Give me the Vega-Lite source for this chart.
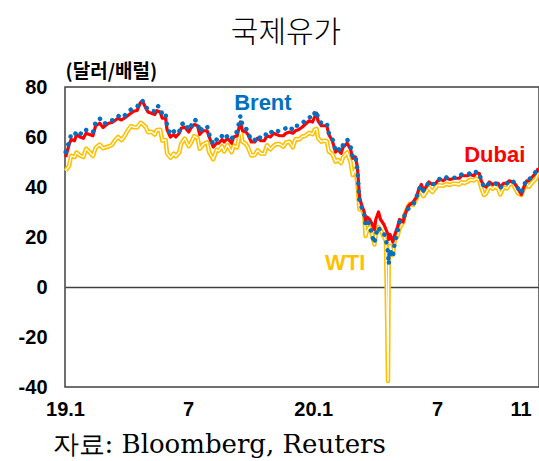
{
  "$schema": "https://vega.github.io/schema/vega-lite/v6.json",
  "width": 474,
  "height": 300,
  "autosize": {"type": "none"},
  "padding": {"left": 65, "top": 87, "right": 0, "bottom": 74},
  "background": "white",
  "title": {"text": "국제유가", "font": "Noto Sans CJK KR", "fontSize": 30, "fontWeight": 300, "color": "black", "anchor": "middle", "frame": "group", "dx": -16, "offset": 14},
  "config": {"view": {"stroke": "#404040", "strokeWidth": 1.5}, "axis": {"domain": false, "ticks": false}},
  "data": {"values": [
    {"date": "2019-01-02", "Dubai": 52, "Brent": 54, "WTI": 46.5},
    {"date": "2019-01-07", "Dubai": 57, "Brent": 58, "WTI": 48.5},
    {"date": "2019-01-10", "Dubai": 59, "Brent": 61, "WTI": 52.5},
    {"date": "2019-01-15", "Dubai": 58.5, "Brent": 60.5, "WTI": 52},
    {"date": "2019-01-18", "Dubai": 61, "Brent": 62.5, "WTI": 53.8},
    {"date": "2019-01-23", "Dubai": 60, "Brent": 61.5, "WTI": 52.6},
    {"date": "2019-01-28", "Dubai": 59.5, "Brent": 61, "WTI": 52},
    {"date": "2019-02-01", "Dubai": 61.5, "Brent": 62.8, "WTI": 55.3},
    {"date": "2019-02-06", "Dubai": 61, "Brent": 62.5, "WTI": 54},
    {"date": "2019-02-11", "Dubai": 60.5, "Brent": 61.8, "WTI": 52.4},
    {"date": "2019-02-15", "Dubai": 64.5, "Brent": 66, "WTI": 55.6},
    {"date": "2019-02-21", "Dubai": 65.5, "Brent": 67.5, "WTI": 57},
    {"date": "2019-02-26", "Dubai": 63.8, "Brent": 65.2, "WTI": 55.5},
    {"date": "2019-03-01", "Dubai": 64.5, "Brent": 65.5, "WTI": 55.8},
    {"date": "2019-03-06", "Dubai": 65.5, "Brent": 66.5, "WTI": 56.2},
    {"date": "2019-03-11", "Dubai": 65.8, "Brent": 66.6, "WTI": 56.8},
    {"date": "2019-03-15", "Dubai": 66.5, "Brent": 67.2, "WTI": 58.5},
    {"date": "2019-03-20", "Dubai": 67.5, "Brent": 68.5, "WTI": 60},
    {"date": "2019-03-25", "Dubai": 66.8, "Brent": 67.5, "WTI": 58.8},
    {"date": "2019-03-29", "Dubai": 67.5, "Brent": 68.4, "WTI": 60.1},
    {"date": "2019-04-03", "Dubai": 68.5, "Brent": 69.8, "WTI": 62.5},
    {"date": "2019-04-08", "Dubai": 69.5, "Brent": 71, "WTI": 64.4},
    {"date": "2019-04-12", "Dubai": 70.3, "Brent": 71.5, "WTI": 63.9},
    {"date": "2019-04-17", "Dubai": 70.6, "Brent": 72, "WTI": 63.8},
    {"date": "2019-04-22", "Dubai": 73.8, "Brent": 74.5, "WTI": 65.7},
    {"date": "2019-04-25", "Dubai": 74.3, "Brent": 74.4, "WTI": 65.2},
    {"date": "2019-04-30", "Dubai": 71.5, "Brent": 72, "WTI": 63.9},
    {"date": "2019-05-03", "Dubai": 70, "Brent": 71, "WTI": 61.9},
    {"date": "2019-05-08", "Dubai": 69.5, "Brent": 70.5, "WTI": 62.1},
    {"date": "2019-05-13", "Dubai": 69, "Brent": 70.3, "WTI": 61},
    {"date": "2019-05-16", "Dubai": 70.5, "Brent": 72.5, "WTI": 62.8},
    {"date": "2019-05-21", "Dubai": 70, "Brent": 72, "WTI": 62.9},
    {"date": "2019-05-24", "Dubai": 67.5, "Brent": 69, "WTI": 58.6},
    {"date": "2019-05-29", "Dubai": 67.5, "Brent": 69.5, "WTI": 58.8},
    {"date": "2019-05-31", "Dubai": 63, "Brent": 64.5, "WTI": 53.5},
    {"date": "2019-06-05", "Dubai": 60, "Brent": 61, "WTI": 51.7},
    {"date": "2019-06-10", "Dubai": 61, "Brent": 62.3, "WTI": 53.3},
    {"date": "2019-06-13", "Dubai": 60, "Brent": 61.2, "WTI": 52.3},
    {"date": "2019-06-18", "Dubai": 61.5, "Brent": 62.2, "WTI": 53.9},
    {"date": "2019-06-21", "Dubai": 63.5, "Brent": 65, "WTI": 57.4},
    {"date": "2019-06-26", "Dubai": 64, "Brent": 65.8, "WTI": 59.4},
    {"date": "2019-07-02", "Dubai": 62, "Brent": 62.8, "WTI": 56.3},
    {"date": "2019-07-05", "Dubai": 63.5, "Brent": 64.2, "WTI": 57.5},
    {"date": "2019-07-10", "Dubai": 65, "Brent": 67, "WTI": 60.4},
    {"date": "2019-07-15", "Dubai": 64.5, "Brent": 66.2, "WTI": 59.6},
    {"date": "2019-07-18", "Dubai": 61, "Brent": 62, "WTI": 55.3},
    {"date": "2019-07-23", "Dubai": 62.5, "Brent": 64, "WTI": 57},
    {"date": "2019-07-29", "Dubai": 62.5, "Brent": 64.3, "WTI": 57.9},
    {"date": "2019-08-01", "Dubai": 60, "Brent": 61, "WTI": 53.9},
    {"date": "2019-08-07", "Dubai": 56, "Brent": 57, "WTI": 51.1},
    {"date": "2019-08-12", "Dubai": 57.5, "Brent": 59, "WTI": 54.9},
    {"date": "2019-08-15", "Dubai": 57.5, "Brent": 58.5, "WTI": 54.5},
    {"date": "2019-08-20", "Dubai": 59, "Brent": 60.5, "WTI": 56.3},
    {"date": "2019-08-23", "Dubai": 58, "Brent": 59.2, "WTI": 54.2},
    {"date": "2019-08-28", "Dubai": 59.5, "Brent": 60.5, "WTI": 56.8},
    {"date": "2019-09-03", "Dubai": 57.5, "Brent": 59, "WTI": 53.9},
    {"date": "2019-09-06", "Dubai": 60, "Brent": 61.5, "WTI": 56.5},
    {"date": "2019-09-11", "Dubai": 60.5, "Brent": 62, "WTI": 55.8},
    {"date": "2019-09-16", "Dubai": 66, "Brent": 68.5, "WTI": 62.9},
    {"date": "2019-09-19", "Dubai": 62.5, "Brent": 64.5, "WTI": 58.1},
    {"date": "2019-09-24", "Dubai": 62, "Brent": 63.5, "WTI": 57.3},
    {"date": "2019-09-27", "Dubai": 61, "Brent": 62, "WTI": 55.9},
    {"date": "2019-10-02", "Dubai": 58, "Brent": 58.5, "WTI": 52.6},
    {"date": "2019-10-07", "Dubai": 58, "Brent": 58.8, "WTI": 52.8},
    {"date": "2019-10-11", "Dubai": 59.5, "Brent": 60.5, "WTI": 54.7},
    {"date": "2019-10-16", "Dubai": 58.5, "Brent": 59.5, "WTI": 53.4},
    {"date": "2019-10-21", "Dubai": 58.5, "Brent": 59.7, "WTI": 53.3},
    {"date": "2019-10-25", "Dubai": 60.5, "Brent": 62, "WTI": 56.7},
    {"date": "2019-10-30", "Dubai": 60, "Brent": 61.5, "WTI": 55.1},
    {"date": "2019-11-04", "Dubai": 61.5, "Brent": 63, "WTI": 56.5},
    {"date": "2019-11-08", "Dubai": 61, "Brent": 62.5, "WTI": 57.2},
    {"date": "2019-11-13", "Dubai": 60.5, "Brent": 62.2, "WTI": 57.1},
    {"date": "2019-11-18", "Dubai": 60.5, "Brent": 62.8, "WTI": 56.1},
    {"date": "2019-11-22", "Dubai": 61.5, "Brent": 63.6, "WTI": 57.8},
    {"date": "2019-11-27", "Dubai": 62, "Brent": 64.3, "WTI": 58.1},
    {"date": "2019-12-02", "Dubai": 61.5, "Brent": 62.8, "WTI": 55.9},
    {"date": "2019-12-06", "Dubai": 62.5, "Brent": 64.5, "WTI": 59.2},
    {"date": "2019-12-11", "Dubai": 63, "Brent": 64.5, "WTI": 59},
    {"date": "2019-12-16", "Dubai": 64, "Brent": 65.5, "WTI": 60.2},
    {"date": "2019-12-20", "Dubai": 65, "Brent": 66.5, "WTI": 60.4},
    {"date": "2019-12-26", "Dubai": 66.5, "Brent": 68, "WTI": 61.7},
    {"date": "2019-12-31", "Dubai": 66, "Brent": 67.5, "WTI": 61.1},
    {"date": "2020-01-03", "Dubai": 68, "Brent": 69.5, "WTI": 63},
    {"date": "2020-01-06", "Dubai": 69.5, "Brent": 70.5, "WTI": 63.3},
    {"date": "2020-01-08", "Dubai": 66.5, "Brent": 67.5, "WTI": 59.6},
    {"date": "2020-01-13", "Dubai": 64.5, "Brent": 65.5, "WTI": 58.1},
    {"date": "2020-01-16", "Dubai": 64.5, "Brent": 65.5, "WTI": 58.5},
    {"date": "2020-01-21", "Dubai": 64.5, "Brent": 65.5, "WTI": 58.3},
    {"date": "2020-01-24", "Dubai": 61, "Brent": 61.5, "WTI": 54.2},
    {"date": "2020-01-29", "Dubai": 58.5, "Brent": 59.5, "WTI": 53.3},
    {"date": "2020-02-03", "Dubai": 54, "Brent": 54.5, "WTI": 50.1},
    {"date": "2020-02-06", "Dubai": 55, "Brent": 55.5, "WTI": 50.9},
    {"date": "2020-02-11", "Dubai": 53.5, "Brent": 54.5, "WTI": 49.6},
    {"date": "2020-02-14", "Dubai": 56, "Brent": 57, "WTI": 52},
    {"date": "2020-02-20", "Dubai": 57.5, "Brent": 59, "WTI": 53.8},
    {"date": "2020-02-25", "Dubai": 55, "Brent": 56, "WTI": 49.9},
    {"date": "2020-02-28", "Dubai": 51.5, "Brent": 52, "WTI": 44.8},
    {"date": "2020-03-03", "Dubai": 52, "Brent": 52.5, "WTI": 47.2},
    {"date": "2020-03-06", "Dubai": 48, "Brent": 47, "WTI": 41.3},
    {"date": "2020-03-09", "Dubai": 36, "Brent": 34, "WTI": 31.1},
    {"date": "2020-03-12", "Dubai": 33, "Brent": 32, "WTI": 31.5},
    {"date": "2020-03-16", "Dubai": 30, "Brent": 29, "WTI": 28.7},
    {"date": "2020-03-18", "Dubai": 26, "Brent": 25, "WTI": 20.4},
    {"date": "2020-03-20", "Dubai": 28, "Brent": 26.5, "WTI": 22.4},
    {"date": "2020-03-24", "Dubai": 27, "Brent": 25, "WTI": 24},
    {"date": "2020-03-27", "Dubai": 25.5, "Brent": 21, "WTI": 21.5},
    {"date": "2020-03-31", "Dubai": 23, "Brent": 17.5, "WTI": 17},
    {"date": "2020-04-02", "Dubai": 27, "Brent": 21, "WTI": 21},
    {"date": "2020-04-06", "Dubai": 30, "Brent": 24, "WTI": 24},
    {"date": "2020-04-09", "Dubai": 27, "Brent": 22, "WTI": 22.8},
    {"date": "2020-04-14", "Dubai": 25, "Brent": 21.5, "WTI": 20},
    {"date": "2020-04-17", "Dubai": 23, "Brent": 19, "WTI": 18.3},
    {"date": "2020-04-20", "Dubai": 21, "Brent": 14, "WTI": -37.6},
    {"date": "2020-04-21", "Dubai": 19, "Brent": 9, "WTI": 10},
    {"date": "2020-04-23", "Dubai": 21, "Brent": 15, "WTI": 16.5},
    {"date": "2020-04-27", "Dubai": 18, "Brent": 12, "WTI": 12.8},
    {"date": "2020-04-30", "Dubai": 21, "Brent": 18, "WTI": 18.8},
    {"date": "2020-05-04", "Dubai": 24, "Brent": 22, "WTI": 20.4},
    {"date": "2020-05-07", "Dubai": 27, "Brent": 26, "WTI": 23.6},
    {"date": "2020-05-12", "Dubai": 26, "Brent": 27, "WTI": 25.8},
    {"date": "2020-05-15", "Dubai": 29, "Brent": 29, "WTI": 29.4},
    {"date": "2020-05-19", "Dubai": 32, "Brent": 31, "WTI": 32},
    {"date": "2020-05-22", "Dubai": 33, "Brent": 32, "WTI": 33.3},
    {"date": "2020-05-27", "Dubai": 34, "Brent": 33, "WTI": 32.8},
    {"date": "2020-06-01", "Dubai": 36, "Brent": 36, "WTI": 35.4},
    {"date": "2020-06-04", "Dubai": 39, "Brent": 39, "WTI": 37.4},
    {"date": "2020-06-08", "Dubai": 41, "Brent": 40.5, "WTI": 38.2},
    {"date": "2020-06-11", "Dubai": 38.5, "Brent": 38.5, "WTI": 36.3},
    {"date": "2020-06-16", "Dubai": 40.5, "Brent": 40.5, "WTI": 38.4},
    {"date": "2020-06-19", "Dubai": 42, "Brent": 42, "WTI": 39.8},
    {"date": "2020-06-24", "Dubai": 41, "Brent": 41, "WTI": 38},
    {"date": "2020-06-29", "Dubai": 41.5, "Brent": 41.5, "WTI": 39.7},
    {"date": "2020-07-02", "Dubai": 42.5, "Brent": 42.8, "WTI": 40.7},
    {"date": "2020-07-07", "Dubai": 43, "Brent": 43.5, "WTI": 40.6},
    {"date": "2020-07-10", "Dubai": 42.5, "Brent": 43, "WTI": 40.5},
    {"date": "2020-07-15", "Dubai": 43.5, "Brent": 43.8, "WTI": 41.2},
    {"date": "2020-07-20", "Dubai": 43, "Brent": 43.5, "WTI": 40.8},
    {"date": "2020-07-24", "Dubai": 43.3, "Brent": 43.6, "WTI": 41.3},
    {"date": "2020-07-29", "Dubai": 43.5, "Brent": 43.8, "WTI": 41.3},
    {"date": "2020-08-03", "Dubai": 43.5, "Brent": 44, "WTI": 41},
    {"date": "2020-08-06", "Dubai": 44.5, "Brent": 45, "WTI": 41.9},
    {"date": "2020-08-11", "Dubai": 44.5, "Brent": 45, "WTI": 41.6},
    {"date": "2020-08-14", "Dubai": 44.5, "Brent": 45, "WTI": 42},
    {"date": "2020-08-19", "Dubai": 45, "Brent": 45.5, "WTI": 42.9},
    {"date": "2020-08-24", "Dubai": 44.5, "Brent": 45, "WTI": 42.6},
    {"date": "2020-08-27", "Dubai": 45.5, "Brent": 46, "WTI": 43.4},
    {"date": "2020-09-01", "Dubai": 45.5, "Brent": 45.8, "WTI": 42.8},
    {"date": "2020-09-04", "Dubai": 42.5, "Brent": 42.7, "WTI": 39.8},
    {"date": "2020-09-08", "Dubai": 40.5, "Brent": 40, "WTI": 36.8},
    {"date": "2020-09-11", "Dubai": 40, "Brent": 40, "WTI": 37.3},
    {"date": "2020-09-16", "Dubai": 42, "Brent": 41.5, "WTI": 40.2},
    {"date": "2020-09-21", "Dubai": 41, "Brent": 41.5, "WTI": 39.3},
    {"date": "2020-09-24", "Dubai": 41.5, "Brent": 41.5, "WTI": 40.3},
    {"date": "2020-09-29", "Dubai": 41.5, "Brent": 41, "WTI": 39.3},
    {"date": "2020-10-02", "Dubai": 40, "Brent": 39.5, "WTI": 37},
    {"date": "2020-10-07", "Dubai": 41.5, "Brent": 41.5, "WTI": 39.9},
    {"date": "2020-10-12", "Dubai": 41.5, "Brent": 41.5, "WTI": 39.4},
    {"date": "2020-10-15", "Dubai": 42.5, "Brent": 42.5, "WTI": 40.9},
    {"date": "2020-10-20", "Dubai": 42, "Brent": 42.5, "WTI": 41.5},
    {"date": "2020-10-23", "Dubai": 41.5, "Brent": 41.5, "WTI": 39.9},
    {"date": "2020-10-28", "Dubai": 39.5, "Brent": 39.5, "WTI": 37.4},
    {"date": "2020-11-02", "Dubai": 37, "Brent": 37.5, "WTI": 36.8},
    {"date": "2020-11-05", "Dubai": 39.5, "Brent": 40, "WTI": 38.8},
    {"date": "2020-11-10", "Dubai": 42.5, "Brent": 43, "WTI": 41.4},
    {"date": "2020-11-13", "Dubai": 42.5, "Brent": 42.8, "WTI": 40.1},
    {"date": "2020-11-18", "Dubai": 44, "Brent": 44.5, "WTI": 41.8},
    {"date": "2020-11-23", "Dubai": 45.5, "Brent": 46, "WTI": 43.1},
    {"date": "2020-11-27", "Dubai": 47.5, "Brent": 48, "WTI": 45.7}
  ]},
  "encoding": {
    "x": {"field": "date", "type": "temporal",
      "scale": {"domain": [{"year": 2019, "month": 1, "date": 1}, {"year": 2020, "month": 11, "date": 28}]},
      "axis": {"values": [{"year": 2019, "month": 1, "date": 1}, {"year": 2019, "month": 7, "date": 1}, {"year": 2020, "month": 1, "date": 1}, {"year": 2020, "month": 7, "date": 1}, {"year": 2020, "month": 11, "date": 1}],
        "labelExpr": "month(datum.value) == 0 ? timeFormat(datum.value, '%y') + '.1' : '' + (month(datum.value) + 1)",
        "labelFont": "Liberation Sans", "labelFontWeight": "bold", "labelFontSize": 20, "labelColor": "black",
        "labelPadding": 12, "labelFlush": false, "labelOverlap": false, "grid": false,
        "title": "자료: Bloomberg, Reuters", "titleFont": "DejaVu Serif", "titleFontSize": 26, "titleFontWeight": "normal", "titleColor": "black",
        "titleAnchor": "start", "titleAlign": "left", "titleBaseline": "alphabetic", "titleX": -13, "titleY": 65}},
    "y": {"field": "value", "type": "quantitative",
      "scale": {"domain": [-40, 80]},
      "axis": {"values": [-40, -20, 0, 20, 40, 60, 80], "labelExpr": "'' + datum.value",
        "labelFont": "Liberation Sans", "labelFontWeight": "bold", "labelFontSize": 20, "labelColor": "black", "labelPadding": 18,
        "grid": true, "gridColor": "#404040", "gridWidth": 1.5,
        "gridOpacity": {"condition": {"test": "datum.value === 0", "value": 1}, "value": 0},
        "title": "(달러/배럴)", "titleFont": "Noto Sans CJK KR", "titleFontWeight": "bold", "titleFontSize": 19, "titleColor": "black",
        "titleAngle": 0, "titleAlign": "left", "titleBaseline": "middle", "titleX": 0, "titleY": -16}}
  },
  "layer": [
    {
      "transform": [{"fold": ["WTI"], "as": ["series", "value"]}],
      "mark": {"type": "line", "color": "#FFC000", "strokeWidth": 4.5, "strokeJoin": "round"}
    },
    {
      "transform": [{"fold": ["WTI"], "as": ["series", "value"]}],
      "mark": {"type": "line", "color": "#FFFFFF", "strokeWidth": 1.3, "strokeJoin": "round"}
    },
    {
      "transform": [{"fold": ["Dubai"], "as": ["series", "value"]}],
      "mark": {"type": "line", "color": "#FF0000", "strokeWidth": 3.2, "strokeJoin": "round"}
    },
    {
      "transform": [{"fold": ["Brent"], "as": ["series", "value"]}],
      "mark": {"type": "line", "color": "#0070C0", "strokeWidth": 4.5, "strokeDash": [0.1, 8], "strokeCap": "round"}
    },
    {
      "data": {"values": [
        {"label": "Brent", "date": "2019-10-19", "value": 73.8},
        {"label": "Dubai", "date": "2020-09-24", "value": 52.8},
        {"label": "WTI", "date": "2020-02-17", "value": 9.8}
      ]},
      "mark": {"type": "text", "font": "Liberation Sans", "fontWeight": "bold", "fontSize": 22, "align": "center", "baseline": "middle"},
      "encoding": {
        "text": {"field": "label"},
        "color": {"field": "label", "type": "nominal", "scale": {"domain": ["Brent", "Dubai", "WTI"], "range": ["#0070C0", "#FF0000", "#FFC000"]}, "legend": null}
      }
    }
  ]
}
